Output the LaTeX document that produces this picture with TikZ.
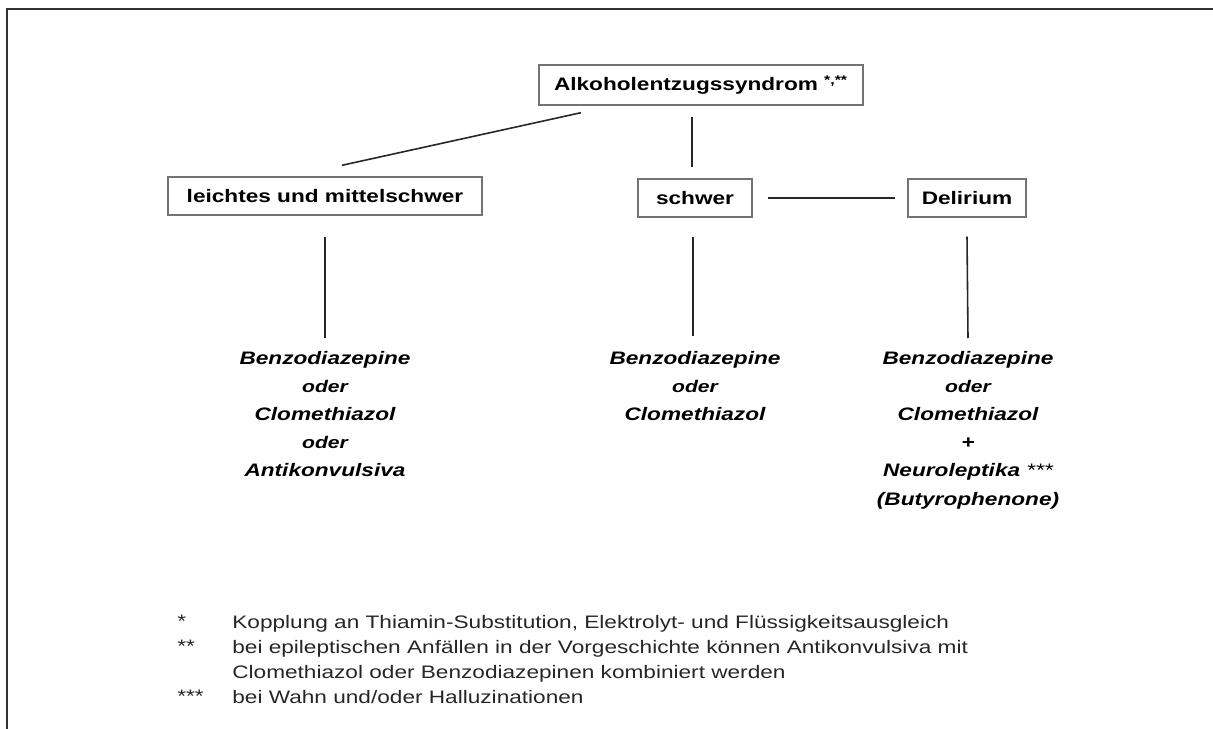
\documentclass[tikz,border=0pt]{standalone}
\usepackage{fontspec}
\setmainfont{Liberation Sans}[FakeStretch=1.25]
\usetikzlibrary{positioning,calc}
\tikzset{
  catbox/.style={draw=black!55, line width=0.8pt, fill=white, align=center, minimum height=0.76cm, inner sep=0pt, font=\fontsize{10.3}{12}\selectfont\bfseries},
  drugtext/.style={align=center, inner sep=0pt, anchor=north, font=\fontsize{10.3}{16}\selectfont\bfseries\itshape},
  notetext/.style={align=left, inner sep=0pt, anchor=north west, text=black!85, font=\fontsize{10.3}{14.2}\selectfont},
  linkline/.style={line width=0.9pt, draw=black!85},
}
\newcommand{\oder}{{\fontsize{9.6}{16}\selectfont oder}}

\begin{document}
\begin{tikzpicture}[x=0.02cm, y=-0.02cm]
    \useasboundingbox (0,0) rectangle (1213,729);
    \draw[line width=1.1pt, black!80] (7,729) -- (7,9) -- (1213,9);
    \node[catbox, minimum width=6.48cm, minimum height=0.8cm] (syndrom) at (701,85) {Alkoholentzugssyndrom \textsuperscript{*,**}};
    \node[catbox, minimum width=6.28cm] (leicht) at (325,196) {leichtes und mittelschwer};
    \node[catbox, minimum width=2.28cm] (schwer) at (695,198) {schwer};
    \node[catbox, minimum width=2.36cm] (delir) at (967,198) {Delirium};
    \node[drugtext] (tleicht) at (325,351) {Benzodiazepine\\\oder\\Clomethiazol\\\oder\\Antikonvulsiva};
    \node[drugtext] (tschwer) at (695,351) {Benzodiazepine\\\oder\\Clomethiazol};
    \node[drugtext] (tdelir) at (968,351) {Benzodiazepine\\\oder\\Clomethiazol\\+\\Neuroleptika {\mdseries ***}\\(Butyrophenone)};
    \draw[linkline] ([shift={(-120,7)}]syndrom.south) -- ([shift={(17,-11)}]leicht.north);
    \draw[linkline] ([shift={(-9,11)}]syndrom.south) -- ([shift={(-3,-11)}]schwer.north);
    \draw[linkline] ([shift={(15,0)}]schwer.east) -- ([shift={(-12,0)}]delir.west);
    \draw[linkline] ([shift={(0,21)}]leicht.south) -- ([shift={(0,-13)}]tleicht.north);
    \draw[linkline] ([shift={(-2,19)}]schwer.south) -- ([shift={(-2,-15)}]tschwer.north);
    \draw[linkline] ([shift={(0,19)}]delir.south) -- ([shift={(0,-13)}]tdelir.north);
    \node[notetext] (star1) at (177,615) {*};
    \node[notetext] (note1) at (232,615) {Kopplung an Thiamin-Substitution, Elektrolyt- und Flüssigkeitsausgleich};
    \node[notetext] (star2) at (177,640) {**};
    \node[notetext] (note2) at (232,640) {bei epileptischen Anfällen in der Vorgeschichte können Antikonvulsiva mit\\Clomethiazol oder Benzodiazepinen kombiniert werden};
    \node[notetext] (star3) at (177,690) {***};
    \node[notetext] (note3) at (232,690) {bei Wahn und/oder Halluzinationen};
\end{tikzpicture}
\end{document}
